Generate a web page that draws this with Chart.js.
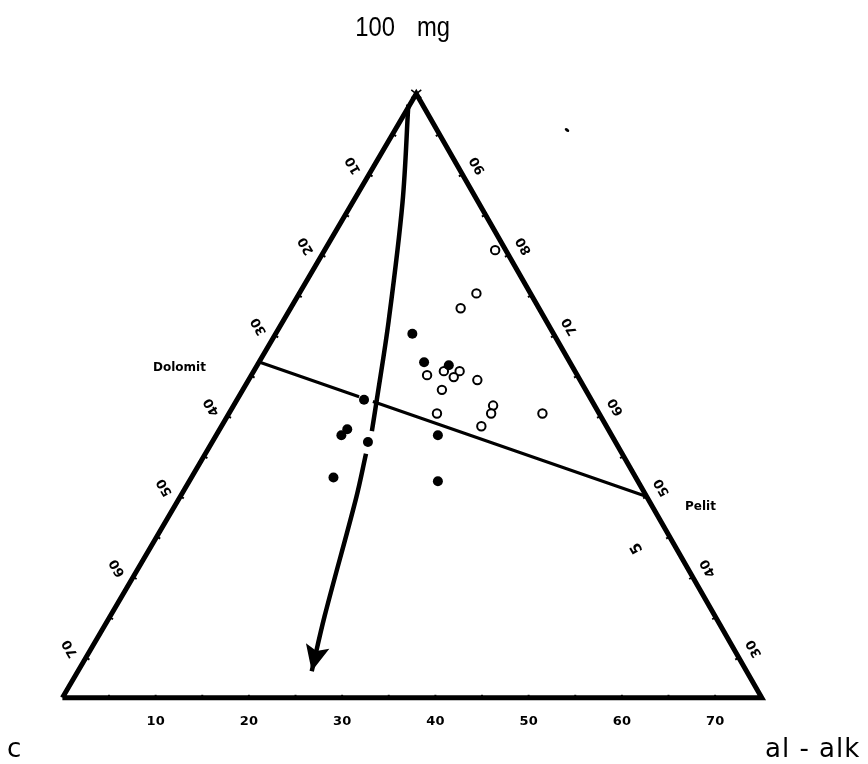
<!DOCTYPE html>
<html>
<head>
<meta charset="utf-8">
<script src="https://cdn.jsdelivr.net/npm/chart.js@4"></script>
<style>
  html, body { margin: 0; padding: 0; background: #fff; }
  #wrap { width: 868px; height: 764px; position: relative; }
</style>
</head>
<body>
<div id="wrap"><canvas id="myChart"></canvas></div>
<script>
// triangle corners: c (left), al-alk (right), 100 mg (top)
let triangleX = [0, 75, 37.95, 0];
let triangleY = [0, 0, 64.9, 0];

// scale labels
let bottomLabels = [10, 20, 30, 40, 50, 60, 70];
let leftLabels = [10, 20, 30, 40, 50, 60, 70];
let rightLabels = [90, 80, 70, 60, 50, 40, 30];

// open circles
let openX = [46.41, 44.40, 42.71, 40.91, 42.60, 39.11, 41.97, 44.50, 40.70, 40.17, 46.19, 45.98, 51.48, 44.93];
let openY = [48.10, 43.45, 41.86, 35.10, 35.10, 34.67, 34.46, 34.14, 33.09, 30.55, 31.40, 30.55, 30.55, 29.18];

// filled dots
let filledX = [37.53, 38.79, 41.44, 32.35, 30.55, 29.92, 32.77, 40.27, 29.07, 40.27];
let filledY = [39.11, 36.05, 35.73, 32.03, 28.86, 28.22, 27.48, 28.22, 23.68, 23.26];

// Dolomit - Pelit line (broken at one dot)
let tieX = [21.1, 31.82, null, 33.30, 62.65];
let tieY = [36.08, 32.35, null, 31.84, 21.63];

// trend arrow (broken at one dot), last point = tip
let arrowX = [37.10, 36.47, 34.99, 33.72, 33.19, null, 32.56, 31.50, 28.12, 26.74];
let arrowY = [63.74, 53.17, 40.49, 32.03, 28.65, null, 26.22, 21.46, 8.77, 2.85];

function pts(xs, ys) {
  return xs.map((x, i) => (x === null ? { x: null, y: null } : { x: x, y: ys[i] }));
}

let k = 9.46;
let ox = 57, oy = 703;

const overlay = {
  id: 'overlay',
  afterDatasetsDraw(chart) {
    const ctx = chart.ctx;
    const sx = chart.scales.x, sy = chart.scales.y;
    const P = (x, y) => [sx.getPixelForValue(x), sy.getPixelForValue(y)];
    const top = P(triangleX[2], triangleY[2]);
    const left = P(triangleX[0], triangleY[0]);
    const right = P(triangleX[1], triangleY[1]);

    ctx.save();
    ctx.strokeStyle = '#000';
    ctx.fillStyle = '#000';
    ctx.lineWidth = 2;

    // small ticks every 5 along the sides and the base
    function sideTicks(a, b, inward, size) {
      for (let d = 5; d < 75; d += 5) {
        const t = d / 75;
        const px = a[0] + (b[0] - a[0]) * t, py = a[1] + (b[1] - a[1]) * t;
        ctx.beginPath();
        ctx.moveTo(px, py);
        ctx.lineTo(px + inward[0] * size, py + inward[1] * size);
        ctx.stroke();
      }
    }
    sideTicks(top, left, [0.866, 0.5], 4);
    sideTicks(top, right, [-0.866, 0.5], 4);
    sideTicks(left, right, [0, -1], 3);

    // side labels, rotated
    ctx.font = 'bold 13px "DejaVu Sans"';
    ctx.textAlign = 'center';
    ctx.textBaseline = 'middle';
    function sideLabels(a, b, labels, out) {
      labels.forEach((lab, i) => {
        const t = (10 * (i + 1)) / 75;
        const px = a[0] + (b[0] - a[0]) * t + out[0] * 18;
        const py = a[1] + (b[1] - a[1]) * t + out[1] * 18;
        ctx.save();
        ctx.translate(px, py);
        ctx.rotate(-2 * Math.PI / 3);
        ctx.fillText(String(lab), 0, 0);
        ctx.restore();
      });
    }
    sideLabels(top, left, leftLabels, [-0.866, -0.5]);
    sideLabels(top, right, rightLabels, [0.866, -0.5]);

    // stray "5" near Pelit
    ctx.save();
    ctx.font = 'bold 15px "DejaVu Sans"';
    ctx.translate(637, 548);
    ctx.rotate(-2 * Math.PI / 3);
    ctx.fillText('5', 0, 0);
    ctx.restore();

    // bottom labels
    ctx.font = 'bold 13px "DejaVu Sans"';
    bottomLabels.forEach((v) => {
      ctx.fillText(String(v), sx.getPixelForValue(v), 722);
    });

    // arrowhead
    const n = arrowX.length;
    const tip = P(arrowX[n - 1], arrowY[n - 1]);
    const prev = P(arrowX[n - 2], arrowY[n - 2]);
    let dx = tip[0] - prev[0], dy = tip[1] - prev[1];
    const len = Math.hypot(dx, dy);
    dx /= len; dy /= len;
    const hl = 26, hw = 12;
    const bx = tip[0] - dx * hl, by = tip[1] - dy * hl;
    ctx.beginPath();
    ctx.moveTo(tip[0], tip[1]);
    ctx.lineTo(bx - dy * hw, by + dx * hw);
    ctx.lineTo(tip[0] - dx * hl * 0.8, tip[1] - dy * hl * 0.8);
    ctx.lineTo(bx + dy * hw, by - dx * hw);
    ctx.closePath();
    ctx.fill();

    // small cross at the apex
    ctx.lineWidth = 1.5;
    ctx.beginPath();
    ctx.moveTo(top[0] - 5, top[1] - 4); ctx.lineTo(top[0] + 5, top[1] + 4);
    ctx.moveTo(top[0] + 5, top[1] - 4); ctx.lineTo(top[0] - 5, top[1] + 4);
    ctx.stroke();

    // corner names (narrow lettering)
    ctx.textBaseline = 'alphabetic';
    ctx.font = '28px "Liberation Sans"';
    ctx.save();
    ctx.translate(395, 36);
    ctx.scale(0.85, 1);
    ctx.textAlign = 'right';
    ctx.fillText('100', 0, 0);
    ctx.restore();
    ctx.save();
    ctx.translate(417, 36);
    ctx.scale(0.85, 1);
    ctx.textAlign = 'left';
    ctx.fillText('mg', 0, 0);
    ctx.restore();

    ctx.font = '26px "DejaVu Sans"';
    ctx.textAlign = 'left';
    ctx.fillText('c', 7, 757);
    ctx.save();
    ctx.letterSpacing = '1px';
    ctx.fillText('al - alk', 765, 757);
    ctx.restore();

    // end member names
    ctx.textBaseline = 'middle';
    ctx.font = 'bold 12px "DejaVu Sans"';
    ctx.fillText('Dolomit', 153, 368);
    ctx.fillText('Pelit', 685, 507);

    // speck
    ctx.beginPath();
    ctx.ellipse(567, 130, 2.5, 1.6, 0.6, 0, Math.PI * 2);
    ctx.fill();
    ctx.restore();
  }
};

const chart = new Chart(document.getElementById('myChart').getContext('2d'), {
  type: 'scatter',
  data: {
    datasets: [
      {
        label: 'triangle',
        data: pts(triangleX, triangleY),
        showLine: true,
        borderColor: '#000',
        borderWidth: 5,
        pointRadius: 0,
        borderJoinStyle: 'miter',
        fill: false,
      },
      {
        label: 'Dolomit - Pelit',
        data: pts(tieX, tieY),
        showLine: true,
        borderColor: '#000',
        borderWidth: 3,
        pointRadius: 0,
        spanGaps: false,
      },
      {
        label: 'trend',
        data: pts(arrowX, arrowY),
        showLine: true,
        borderColor: '#000',
        borderWidth: 4.5,
        pointRadius: 0,
        tension: 0.35,
        spanGaps: false,
      },
      {
        label: 'filled',
        data: pts(filledX, filledY),
        pointRadius: 5,
        pointBackgroundColor: '#000',
        pointBorderColor: '#000',
        pointBorderWidth: 0,
      },
      {
        label: 'open',
        data: pts(openX, openY),
        pointRadius: 4.2,
        pointBackgroundColor: '#fff',
        pointBorderColor: '#000',
        pointBorderWidth: 2,
      },
    ],
  },
  options: {
    responsive: true,
    maintainAspectRatio: false,
    animation: false,
    layout: { padding: 0 },
    scales: {
      x: { type: 'linear', display: false, min: -ox / k, max: (868 - ox) / k },
      y: { type: 'linear', display: false, min: (oy - 764) / k, max: oy / k },
    },
    plugins: {
      legend: { display: false },
      tooltip: { enabled: false },
    },
  },
  plugins: [overlay],
});
</script>
</body>
</html>
